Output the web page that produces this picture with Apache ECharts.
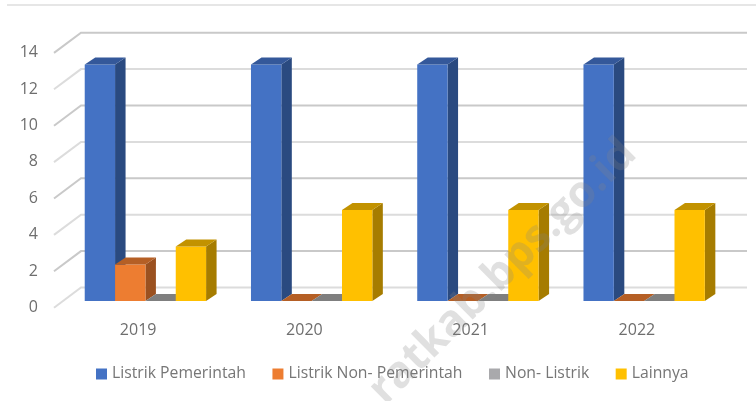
<!DOCTYPE html>
<html><head><meta charset="utf-8">
<style>html,body{margin:0;padding:0;background:#fff}#c{width:756px;height:401px}</style>
<script src="https://cdn.jsdelivr.net/npm/echarts@6/dist/echarts.min.js"></script>
</head><body><div id="c"></div>
<script>
const categories = ['2019','2020','2021','2022'];
const yTicks = [0,2,4,6,8,10,12,14];
const listrikPemerintah = [13,13,13,13];
const listrikNonPemerintah = [2,0,0,0];
const nonListrik = [0,0,0,0];
const lainnya = [3,5,5,5];

const FONT = '"Open Sans", sans-serif';
const chart = echarts.init(document.getElementById('c'), null, {renderer:'canvas'});

function poly(points, fill){
  return {type:'polygon', shape:{points}, style:{fill, stroke:null}};
}
function barRenderer(pos, front, top, side){
  return function(params, api){
    const i = api.value(0), v = api.value(1);
    const band = api.size([1,0])[0];
    const c = api.coord([i, v]);
    const c0 = api.coord([i, 0]);
    const w = band * 0.1825;
    const x0 = c[0] - band*0.5 + band*0.1788 + pos*w;
    const x1 = x0 + w;
    const yT = c[1] - 6.5, yB = c0[1] - 6.5;
    const dx = 10.5, dy = 7;
    const kids = [];
    if (v > 0) {
      kids.push(poly([[x1,yT],[x1+dx,yT-dy],[x1+dx,yB-dy],[x1,yB]], side));
      kids.push(poly([[x0,yT],[x1,yT],[x1,yB],[x0,yB]], front));
    }
    kids.push(poly([[x0,yT],[x1,yT],[x1+dx,yT-dy],[x0+dx,yT-dy]], top));
    return {type:'group', children:kids};
  };
}
function wallRenderer(params, api){
  const v = api.value(0);
  const p = api.coord([0, v]);
  const g = params.coordSys;
  const yFront = p[1] + 0.2, yBack = p[1] - 20;
  const xL = g.x - 1, xB = g.x + 26, xR = g.x + g.width + 27;
  const col = v % 4 === 2 ? '#c9c9c9' : '#dcdcdc';
  return {type:'polyline', shape:{points:[[xL,yFront],[xB,yBack],[xR,yBack]]},
    style:{stroke:col, lineWidth:2, fill:null}};
}
function barSeries(name, values, pos, front, top, side){
  return {name, type:'custom', renderItem:barRenderer(pos, front, top, side),
    data:values.map((v,i)=>[i,v]), encode:{x:0,y:1}, itemStyle:{color:front}, clip:false};
}
chart.setOption({
  animation:false,
  backgroundColor:'#fff',
  grid:{left:55, right:36, top:52.7, bottom:93.5},
  legend:{
    data:['Listrik Pemerintah','Listrik Non- Pemerintah','Non- Listrik','Lainnya'],
    left:91, top:361, itemWidth:11, itemHeight:11, itemGap:26.5, icon:'rect',
    textStyle:{color:'#767676', fontFamily:FONT, fontSize:15.75}
  },
  xAxis:{type:'category', data:categories, axisLine:{show:false}, axisTick:{show:false},
    splitLine:{show:false},
    axisLabel:{color:'#6e6e6e', fontFamily:FONT, fontSize:16, margin:15}},
  yAxis:{type:'value', min:0, max:14, interval:2, axisLine:{show:false}, axisTick:{show:false},
    splitLine:{show:false},
    axisLabel:{color:'#6e6e6e', fontFamily:FONT, fontSize:16, margin:17}},
  graphic:[
    {type:'line', shape:{x1:7,y1:5,x2:756,y2:5}, style:{stroke:'#dedede', lineWidth:1.5}, z:0},
    {type:'text', x:503, y:272, rotation:Math.PI*44.7/180, z:100,
      style:{text:'ratkab.bps.go.id', font:'bold 44px '+FONT, fill:'rgba(130,130,130,0.25)',
        textAlign:'center', textVerticalAlign:'middle'}}
  ],
  series:[
    {name:'wall', type:'custom', renderItem:wallRenderer, data:yTicks.map(v=>[v]), encode:{y:0}, clip:false, silent:true},
    barSeries('Listrik Pemerintah', listrikPemerintah, 0, '#4472c4', '#34589a', '#2a4a80'),
    barSeries('Listrik Non- Pemerintah', listrikNonPemerintah, 1, '#ed7d31', '#b55f25', '#9b5120'),
    barSeries('Non- Listrik', nonListrik, 2, '#a9a9ac', '#7f7f7f', '#6f6f6f'),
    barSeries('Lainnya', lainnya, 3, '#ffc000', '#c29200', '#a67c00')
  ]
});
</script></body></html>
